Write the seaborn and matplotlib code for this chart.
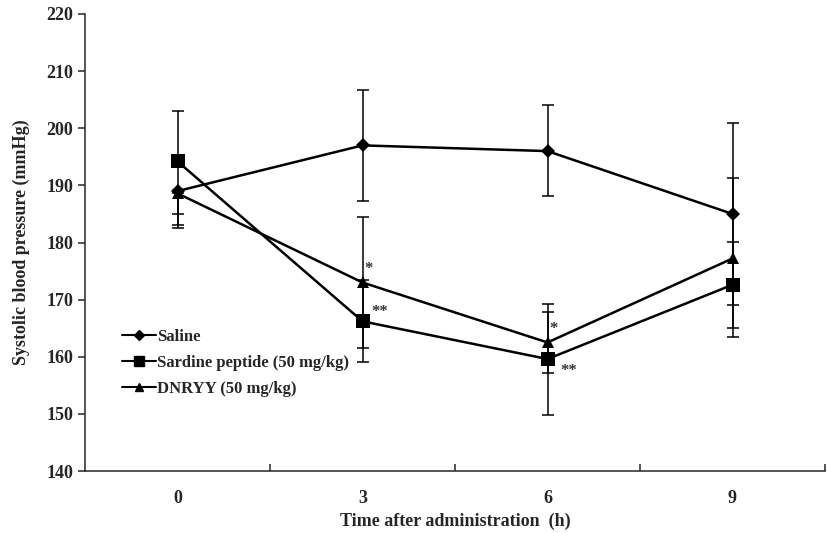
import matplotlib
matplotlib.use('Agg')
import numpy as np
import pandas as pd
import seaborn as sns
from matplotlib import pyplot
from matplotlib.lines import Line2D

times = ['0', '3', '6', '9']
groups = ['Saline', 'Sardine peptide (50 mg/kg)', 'DNRYY (50 mg/kg)']
saline = [189.0, 197.0, 196.0, 185.0]
sardine = [194.2, 166.2, 159.6, 172.6]
dnryy = [188.6, 173.0, 162.5, 177.2]
# lower / upper error lengths
saline_lo = [6.5, 9.7, 7.8, 16.0]
saline_hi = [0.0, 9.7, 8.1, 16.0]
sardine_lo = [9.2, 7.2, 9.8, 7.6]
sardine_hi = [8.8, 7.2, 9.6, 7.5]
dnryy_lo = [5.5, 11.5, 5.3, 13.7]
dnryy_hi = [0.0, 11.5, 5.3, 14.1]
# significance marks: (time, group, text, above?)
stars = [('3', 'DNRYY (50 mg/kg)', '*', True), ('3', 'Sardine peptide (50 mg/kg)', '**', True),
         ('6', 'DNRYY (50 mg/kg)', '*', True), ('6', 'Sardine peptide (50 mg/kg)', '**', False)]

df = pd.DataFrame({
    'time': times * 3,
    'group': [g for g in groups for _ in times],
    'sbp': saline + sardine + dnryy,
})
series = dict(zip(groups, [saline, sardine, dnryy]))

sns.set_theme(style='ticks')
pyplot.rcParams['font.family'] = ['Liberation Serif', 'DejaVu Serif']
pyplot.rcParams['font.weight'] = 'bold'

fig = pyplot.figure(figsize=(8.27, 5.33), dpi=100)
ax = fig.add_axes([85 / 827, 62 / 533, 740 / 827, 457 / 533])

markers = ['D', 's', '^']
sizes = [7, 10, 9]
ax = sns.pointplot(data=df, x='time', y='sbp', hue='group', order=times, hue_order=groups,
                   palette=['black'] * 3, markers=markers, linestyles=['-'] * 3,
                   errorbar=None, ax=ax, legend=False)
for line, ms in zip(ax.lines[:3], sizes):
    line.set_markersize(ms)
    line.set_linewidth(1.8)
    line.set_markeredgewidth(0)
    line.set_zorder(3)

xpos = np.arange(len(times))
errs = [(saline, saline_lo, saline_hi), (sardine, sardine_lo, sardine_hi), (dnryy, dnryy_lo, dnryy_hi)]
for vals, lo, hi in errs:
    ax.errorbar(xpos, vals, yerr=[lo, hi], fmt='none', ecolor='black', elinewidth=1.1,
                capsize=4, capthick=1.1, zorder=1)

for t, g, s, above in stars:
    i = times.index(t)
    v = series[g][i]
    if s == '*':
        ax.text(i + 0.01, v + 1.0, s, fontsize=12, ha='left', va='bottom', color='#333333')
    elif above:
        ax.text(i + 0.05, v + 0.3, s, fontsize=12, ha='left', va='bottom', color='#333333')
    else:
        ax.text(i + 0.07, v - 3.5, s, fontsize=12, ha='left', va='bottom', color='#333333')

ax.set_xlim(-0.5, 3.5)
ax.set_ylim(140, 220)
ax.set_yticks(range(140, 221, 10))
ax.set_xticks(xpos)
ax.set_xticklabels(times)
ax.set_xticks(np.arange(0.5, 3.6, 1), minor=True)
ax.tick_params(axis='x', which='major', length=0, labelsize=13, pad=14)
ax.tick_params(axis='x', which='minor', direction='in', length=5, width=1.1)
ax.tick_params(axis='y', direction='out', length=5, width=1.1, labelsize=13)
for lab in ax.get_xticklabels() + ax.get_yticklabels():
    lab.set_fontweight('bold')
sns.despine(ax=ax)
ax.spines['left'].set_linewidth(1.1)
ax.spines['bottom'].set_linewidth(1.1)
ax.set_xlabel('Time after administration  (h)', fontsize=13, fontweight='bold', labelpad=4)
ax.set_ylabel('Systolic blood pressure (mmHg)', fontsize=13, fontweight='bold', labelpad=12)

handles = [Line2D([], [], color='black', lw=1.5, marker=m, ms=ms * 0.7) for m, ms in zip(markers, sizes)]
ax.legend(handles, groups, loc='lower left', bbox_to_anchor=(0.03, 0.13), frameon=False,
          prop={'family': 'Liberation Serif', 'weight': 'bold', 'size': 12},
          handlelength=2.0, handletextpad=0.1, labelspacing=0.6)

fig.savefig('out.png', dpi=100)
